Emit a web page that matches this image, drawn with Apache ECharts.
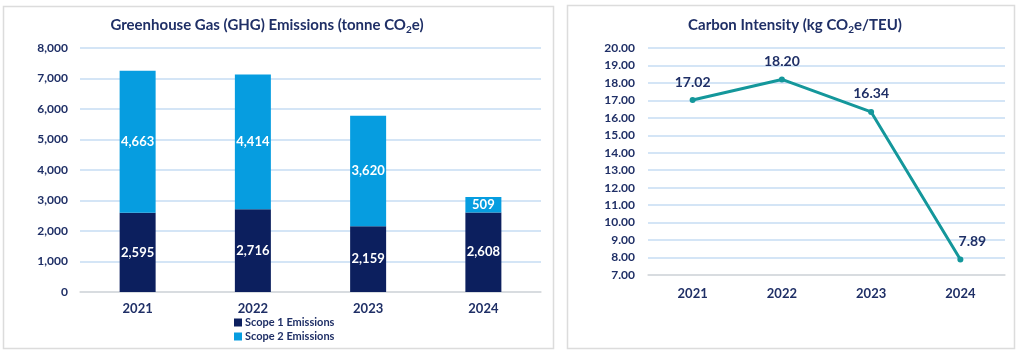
<!DOCTYPE html>
<html>
<head>
<meta charset="utf-8">
<script src="https://cdn.jsdelivr.net/npm/echarts@6/dist/echarts.min.js"></script>
<style>
  html, body { margin: 0; padding: 0; background: #fff; }
  #chart { width: 1024px; height: 354px; }
</style>
</head>
<body>
<div id="chart"></div>
<script>
// data
var years = ['2021', '2022', '2023', '2024']
var scope1 = [2595, 2716, 2159, 2608]
var scope2 = [4663, 4414, 3620, 509]
var intensity = [17.02, 18.20, 16.34, 7.89]

var navy = '#1f2f66'
var font = 'Lato'

var chart = echarts.init(document.getElementById('chart'))

var titleRich = {
  a: { fontFamily: font, fontWeight: 'bold', fontSize: 15, color: navy },
  s: { fontFamily: font, fontWeight: 'bold', fontSize: 10, color: navy, padding: [9, 0, 0, 0] }
}

var option = {
  backgroundColor: '#fff',
  animation: false,
  textStyle: { fontFamily: font },
  graphic: [
    { type: 'rect', shape: { x: 3.5, y: 6.5, width: 550, height: 342 },
      style: { fill: '#fff', stroke: '#dcdcdc', lineWidth: 1.5 }, z: -1 },
    { type: 'rect', shape: { x: 567.5, y: 5.5, width: 447, height: 343 },
      style: { fill: '#fff', stroke: '#dcdcdc', lineWidth: 1.5 }, z: -1 }
  ],
  title: [{
    text: '{a|Greenhouse Gas (GHG) Emissions (tonne CO}{s|2}{a|e)}',
    left: 262, top: 11, textAlign: 'center',
    textStyle: { rich: titleRich }
  }, {
    text: '{a|Carbon Intensity (kg CO}{s|2}{a|e/TEU)}',
    left: 790, top: 11, textAlign: 'center',
    textStyle: { rich: titleRich }
  }],
  legend: {
    orient: 'vertical',
    left: 229,
    top: 312,
    itemWidth: 8,
    itemHeight: 8,
    itemGap: 3,
    icon: 'rect',
    textStyle: { color: navy, fontWeight: 'bold', fontSize: 11, fontFamily: font, padding: [0, 0, 0, -2] },
    data: ['Scope 1 Emissions', 'Scope 2 Emissions']
  },
  grid: [
    { left: 80, right: 483, top: 48, bottom: 62 },
    { left: 648, right: 19, top: 48, bottom: 79 }
  ],
  xAxis: [{
    type: 'category',
    gridIndex: 0,
    data: years,
    axisLine: { lineStyle: { color: '#d9d9d9', width: 1.5 } },
    axisTick: { show: false },
    axisLabel: { color: navy, fontWeight: 'bold', fontSize: 13, margin: 10 }
  }, {
    type: 'category',
    gridIndex: 1,
    data: years,
    axisLine: { lineStyle: { color: '#d9d9d9', width: 1.5 } },
    axisTick: { show: false },
    axisLabel: { color: navy, fontWeight: 'bold', fontSize: 13, margin: 12 }
  }],
  yAxis: [{
    type: 'value',
    gridIndex: 0,
    min: 0, max: 8000, interval: 1000,
    axisLine: { show: false },
    axisTick: { show: false },
    splitLine: { lineStyle: { color: '#c6dcf3', width: 1.5 } },
    axisLabel: {
      color: navy, fontWeight: 'bold', fontSize: 12, margin: 12,
      formatter: function (v) { return v.toLocaleString('en-US') }
    }
  }, {
    type: 'value',
    gridIndex: 1,
    min: 7, max: 20, interval: 1,
    axisLine: { show: false },
    axisTick: { show: false },
    splitLine: { lineStyle: { color: '#c6dcf3', width: 1.5 } },
    axisLabel: {
      color: navy, fontWeight: 'bold', fontSize: 12, margin: 13,
      formatter: function (v) { return v.toFixed(2) }
    }
  }],
  series: [{
    name: 'Scope 1 Emissions',
    type: 'bar',
    stack: 'ghg',
    xAxisIndex: 0, yAxisIndex: 0,
    barWidth: 36,
    itemStyle: { color: '#0c1f5e' },
    label: {
      show: true, position: 'inside', color: '#fff', fontWeight: 'bold', fontSize: 13,
      formatter: function (p) { return p.value.toLocaleString('en-US') }
    },
    data: scope1
  }, {
    name: 'Scope 2 Emissions',
    type: 'bar',
    stack: 'ghg',
    xAxisIndex: 0, yAxisIndex: 0,
    barWidth: 36,
    itemStyle: { color: '#069de0' },
    label: {
      show: true, position: 'inside', color: '#fff', fontWeight: 'bold', fontSize: 13,
      formatter: function (p) { return p.value.toLocaleString('en-US') }
    },
    data: scope2
  }, {
    name: 'Carbon Intensity',
    type: 'line',
    xAxisIndex: 1, yAxisIndex: 1,
    symbol: 'circle',
    symbolSize: 6,
    lineStyle: { color: '#14979b', width: 3 },
    itemStyle: { color: '#14979b' },
    label: {
      show: true, position: 'top', distance: 8, color: navy, fontWeight: 'bold', fontSize: 14,
      formatter: function (p) { return p.value.toFixed(2) }
    },
    data: intensity.map(function (v, i) {
      if (i === intensity.length - 1) {
        return { value: v, label: { offset: [12, 0] } }
      }
      return v
    })
  }]
}

chart.setOption(option)
</script>
</body>
</html>
